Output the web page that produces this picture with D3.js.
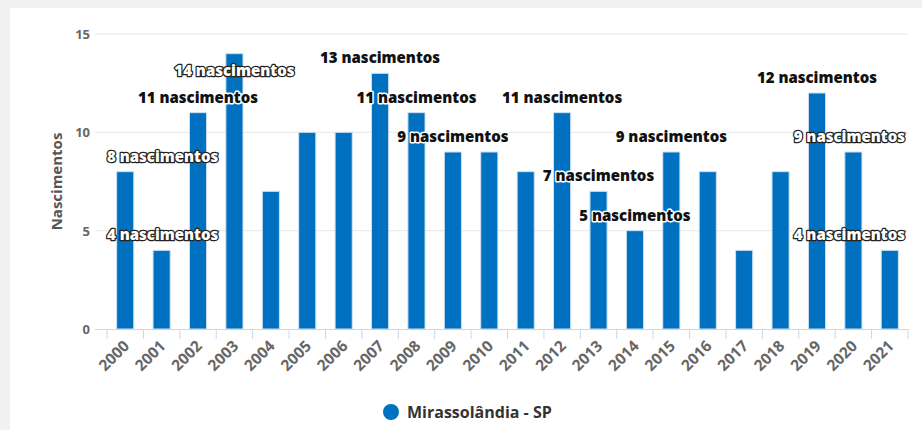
<!DOCTYPE html>
<html>
<head>
<meta charset="utf-8">
<script src="https://cdn.jsdelivr.net/npm/d3@7"></script>
<style>
  body { margin: 0; background: #f1f1f1; }
  svg { display: block; }
  text { font-family: "Open Sans", Lato, sans-serif; }
</style>
</head>
<body>
<svg id="chart" width="922" height="430"></svg>
<script>
// data
let years = ["2000", "2001", "2002", "2003", "2004", "2005", "2006", "2007", "2008", "2009", "2010",
             "2011", "2012", "2013", "2014", "2015", "2016", "2017", "2018", "2019", "2020", "2021"];
let births = [8, 4, 11, 14, 7, 10, 10, 13, 11, 9, 9, 8, 11, 7, 5, 9, 8, 4, 8, 12, 9, 4];
// which data labels survive the overlap check, and how they are drawn
let labelShown = [1, 1, 1, 1, 0, 0, 0, 1, 1, 1, 0, 0, 1, 1, 1, 1, 0, 0, 0, 1, 1, 1];
let labelOutlined = ["2000", "2001", "2003", "2020", "2021"];
let labelInside = ["2003"];
let yTicks = [0, 5, 10, 15];
let seriesName = "Mirassolândia - SP";

let svg = d3.select("#chart");
let blue = "#0070c0";

// card background
svg.append("rect")
    .attr("x", 10).attr("y", 8)
    .attr("width", 912).attr("height", 422)
    .attr("fill", "#fff");

let plotLeft = 107, plotRight = 908, plotTop = 34, plotBottom = 329;

let x = d3.scaleBand()
    .domain(years)
    .range([plotLeft, plotRight])
    .paddingInner(0.53)
    .paddingOuter(0.265);

let y = d3.scaleLinear()
    .domain([0, 15])
    .range([plotBottom, plotTop]);

let step = x.step();

// grid lines
svg.append("g").selectAll("line")
    .data(yTicks.filter(d => d > 0))
    .enter().append("line")
    .attr("x1", 95).attr("x2", plotRight)
    .attr("y1", d => y(d)).attr("y2", d => y(d))
    .attr("stroke", "#e6e6e6")
    .attr("stroke-width", 1);

// y labels
svg.append("g").selectAll("text")
    .data(yTicks)
    .enter().append("text")
    .attr("x", 90)
    .attr("y", d => y(d) + 5)
    .attr("text-anchor", "end")
    .attr("fill", "#666")
    .attr("font-size", 13)
    .attr("font-weight", 700)
    .text(d => d);

// y title
svg.append("text")
    .attr("transform", "translate(62," + ((plotTop + plotBottom) / 2) + ") rotate(-90)")
    .attr("text-anchor", "middle")
    .attr("fill", "#555")
    .attr("font-size", 15)
    .attr("font-weight", 700)
    .text("Nascimentos");

// bars
svg.append("g").selectAll("rect")
    .data(years)
    .enter().append("rect")
    .attr("x", d => x(d))
    .attr("y", (d, i) => y(births[i]))
    .attr("width", x.bandwidth())
    .attr("height", (d, i) => plotBottom - y(births[i]))
    .attr("fill", blue)
    .attr("stroke", "#cfe0f0")
    .attr("stroke-width", 1);

// x axis line and ticks
svg.append("line")
    .attr("x1", 95).attr("x2", plotRight)
    .attr("y1", plotBottom + 0.5).attr("y2", plotBottom + 0.5)
    .attr("stroke", "#ccd6eb");

svg.append("g").selectAll("line")
    .data(years.concat(["end"]))
    .enter().append("line")
    .attr("x1", (d, i) => plotLeft + i * step)
    .attr("x2", (d, i) => plotLeft + i * step)
    .attr("y1", plotBottom).attr("y2", plotBottom + 10)
    .attr("stroke", "#ccd6eb");

// x labels
svg.append("g").selectAll("text")
    .data(years)
    .enter().append("text")
    .attr("transform", d => "translate(" + (x(d) + x.bandwidth() / 2 + 5) + "," + (plotBottom + 18) + ") rotate(-45)")
    .attr("text-anchor", "end")
    .attr("fill", "#666")
    .attr("font-size", 15.5)
    .attr("font-weight", 700)
    .text(d => d);

// data labels
let labels = years.map((d, i) => ({ year: d, value: births[i] }))
    .filter((d, i) => labelShown[i]);

let labelG = svg.append("g");
labels.forEach(function (d) {
    let t = labelG.append("text")
        .attr("font-size", 15)
        .attr("font-weight", 800)
        .attr("text-anchor", "middle")
        .attr("paint-order", "stroke")
        .attr("stroke-linejoin", "round")
        .text(d.value + " nascimentos");
    let cx = x(d.year) + x.bandwidth() / 2;
    let w = t.node().getComputedTextLength();
    cx = Math.max(plotLeft + w / 2, Math.min(plotRight - 3 - w / 2, cx));
    let ty = labelInside.includes(d.year) ? y(d.value) + 22 : y(d.value) - 10;
    t.attr("x", cx).attr("y", ty);
    if (labelOutlined.includes(d.year)) {
        t.attr("fill", "#fff").attr("stroke", "#222").attr("stroke-width", 2.5);
    } else {
        t.attr("fill", "#111").attr("stroke", "#fff").attr("stroke-width", 3);
    }
});

// legend
svg.append("circle")
    .attr("cx", 391).attr("cy", 412)
    .attr("r", 8)
    .attr("fill", blue);

svg.append("text")
    .attr("x", 407).attr("y", 418)
    .attr("fill", "#333")
    .attr("font-size", 16)
    .attr("font-weight", 700)
    .text(seriesName);
</script>
</body>
</html>
